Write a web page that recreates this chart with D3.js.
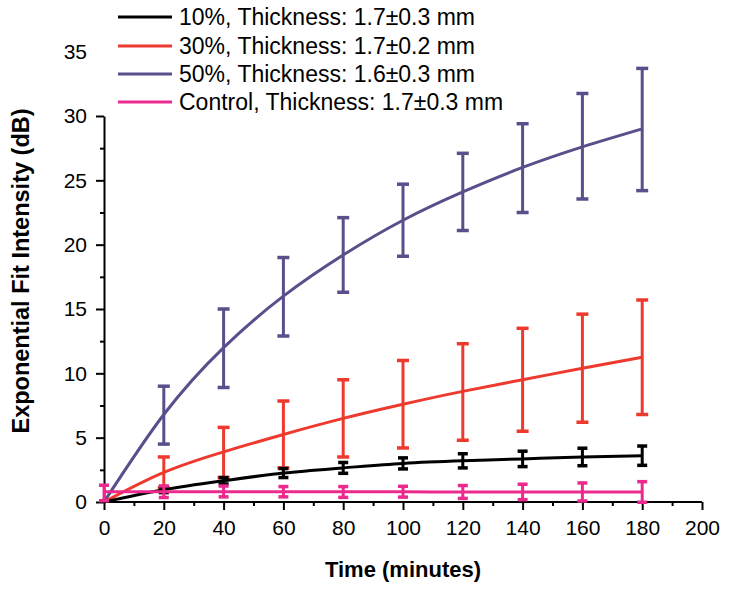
<!DOCTYPE html>
<html><head><meta charset="utf-8">
<script src="https://cdn.jsdelivr.net/npm/d3@7"></script>
<style>body{margin:0;background:#fff}svg{display:block}</style>
</head><body>
<svg id="c" width="729" height="591"></svg>
<script>
const times = [0, 20, 40, 60, 80, 100, 120, 140, 160, 180];
const errTimes = [20, 40, 60, 80, 100, 120, 140, 160, 180];
const controlErrTimes = [0, 20, 40, 60, 80, 100, 120, 140, 160, 180];

const fit10 = [0, 0.95, 1.65, 2.25, 2.65, 3.0, 3.2, 3.35, 3.5, 3.6];
const fit30 = [0, 2.3, 3.9, 5.25, 6.5, 7.6, 8.6, 9.5, 10.4, 11.25];
const fit50 = [0, 6.8, 12.0, 16.0, 19.2, 21.9, 24.1, 26.0, 27.6, 29.0];
const fitCtl = [0.8, 0.8, 0.8, 0.8, 0.79, 0.79, 0.78, 0.78, 0.78, 0.78];

const mean10 = [0.95, 1.65, 2.25, 2.65, 3.0, 3.2, 3.35, 3.5, 3.6];
const err10 = [0.22, 0.25, 0.35, 0.42, 0.43, 0.55, 0.6, 0.68, 0.75];
const mean30 = [2.3, 3.85, 5.25, 6.5, 7.6, 8.55, 9.5, 10.4, 11.25];
const err30 = [1.2, 1.95, 2.6, 3.0, 3.4, 3.75, 4.0, 4.2, 4.45];
const mean50 = [6.75, 11.95, 15.95, 19.2, 21.9, 24.1, 25.95, 27.65, 28.95];
const err50 = [2.25, 3.05, 3.05, 2.9, 2.8, 3.0, 3.45, 4.1, 4.75];
const meanCtl = [0.7, 0.8, 0.82, 0.8, 0.78, 0.8, 0.78, 0.78, 0.78, 0.78];
const errCtl = [0.6, 0.45, 0.42, 0.4, 0.42, 0.42, 0.5, 0.6, 0.7, 0.8];

const seriesNames = ["10%, Thickness: 1.7\u00b10.3 mm", "30%, Thickness: 1.7\u00b10.2 mm", "50%, Thickness: 1.6\u00b10.3 mm", "Control, Thickness: 1.7\u00b10.3 mm"];
const seriesColors = ["#000000", "#ee3a2e", "#5b4e8b", "#ec2a8e"];

const xTicks = [0, 20, 40, 60, 80, 100, 120, 140, 160, 180, 200];
const yTicks = [0, 5, 10, 15, 20, 25, 30, 35];

const svg = d3.select("#c");
const font = "'Liberation Sans', Arial, sans-serif";
const x = d3.scaleLinear().domain([0, 200]).range([104, 702]);
const y = d3.scaleLinear().domain([0, 30]).range([502, 116]);

// axes
const xAxis = svg.append("g").attr("transform", `translate(0,${y(0)})`)
  .call(d3.axisBottom(x).tickValues(xTicks).tickSize(8).tickPadding(10).tickSizeOuter(0));
const xMinor = svg.append("g").attr("transform", `translate(0,${y(0)})`)
  .call(d3.axisBottom(x).tickValues(d3.range(10, 200, 20)).tickSize(4).tickFormat("").tickSizeOuter(0));
xMinor.select(".domain").remove();
const yAxis = svg.append("g").attr("transform", `translate(${x(0)},0)`)
  .call(d3.axisLeft(y).tickValues(yTicks).tickSize(8).tickPadding(9).tickSizeOuter(0));
const yMinor = svg.append("g").attr("transform", `translate(${x(0)},0)`)
  .call(d3.axisLeft(y).tickValues(d3.range(2.5, 35, 5)).tickSize(4).tickFormat("").tickSizeOuter(0));
yMinor.select(".domain").remove();
svg.selectAll(".domain, .tick line").attr("stroke", "#000").attr("stroke-width", 2);
svg.selectAll(".tick text").attr("font-family", font).attr("font-size", 21).attr("fill", "#000");
xAxis.select(".domain").attr("d", `M${x(0)},0H${x(200)}`);

// curves & error bars
const line = d3.line().x((d, i) => x(times[i])).y(d => y(d)).curve(d3.curveNatural);
const fits = [fit50, fit30, fit10, fitCtl];
const colorsOrder = [seriesColors[2], seriesColors[1], seriesColors[0], seriesColors[3]];
const bars = [
  {t: errTimes, m: mean50, e: err50, c: seriesColors[2], w: 12},
  {t: errTimes, m: mean30, e: err30, c: seriesColors[1], w: 12},
  {t: errTimes, m: mean10, e: err10, c: seriesColors[0], w: 10},
  {t: controlErrTimes, m: meanCtl, e: errCtl, c: seriesColors[3], w: 10}
];
fits.forEach((f, k) => {
  const b = bars[k];
  const g = svg.append("g");
  g.append("path").datum(f).attr("d", line).attr("fill", "none")
    .attr("stroke", colorsOrder[k]).attr("stroke-width", 3);
  b.t.forEach((t, i) => {
    const cx = x(t), y1 = y(b.m[i] + b.e[i]), y2 = y(b.m[i] - b.e[i]);
    g.append("line").attr("x1", cx).attr("x2", cx).attr("y1", y1).attr("y2", y2)
      .attr("stroke", b.c).attr("stroke-width", 3);
    [y1, y2].forEach(yy => g.append("line").attr("x1", cx - b.w / 2).attr("x2", cx + b.w / 2)
      .attr("y1", yy).attr("y2", yy).attr("stroke", b.c).attr("stroke-width", 3.5));
  });
});

// legend (white box covers the axis above 30, as in the original)
svg.append("rect").attr("x", 91).attr("y", 0).attr("width", 450).attr("height", 114).attr("fill", "#fff");
const legY = [17, 46, 74, 102];
seriesNames.forEach((n, i) => {
  svg.append("line").attr("x1", 118).attr("x2", 172).attr("y1", legY[i]).attr("y2", legY[i])
    .attr("stroke", seriesColors[i]).attr("stroke-width", 3);
  svg.append("text").attr("x", 179).attr("y", legY[i] + 8).text(n)
    .attr("font-family", font).attr("font-size", 23).attr("fill", "#000");
});

// titles
svg.append("text").attr("x", 403).attr("y", 577).attr("text-anchor", "middle")
  .attr("font-family", font).attr("font-size", 22).attr("font-weight", "bold").text("Time (minutes)");
svg.append("text").attr("transform", "translate(29,271) rotate(-90)").attr("text-anchor", "middle")
  .attr("font-family", font).attr("font-size", 23.5).attr("font-weight", "bold").text("Exponential Fit Intensity (dB)");
</script>
</body></html>
